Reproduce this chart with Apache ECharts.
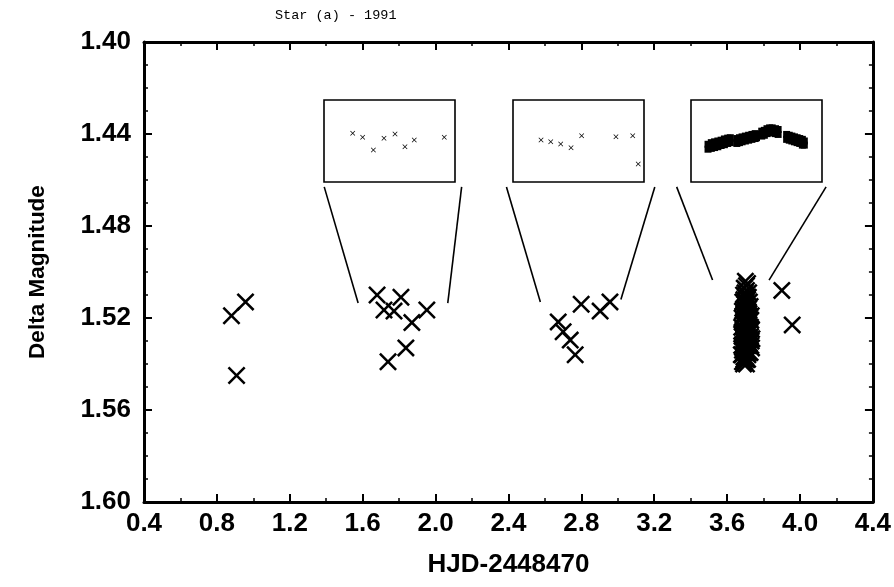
<!DOCTYPE html>
<html><head><meta charset="utf-8">
<script src="https://cdn.jsdelivr.net/npm/echarts@6/dist/echarts.min.js"></script>
<style>html,body{margin:0;padding:0;background:#fff}#c{width:894px;height:587px}</style>
</head><body><div id="c"></div>
<script>
// ---- data ----
const titleText = 'Star (a) - 1991';
const xName = 'HJD-2448470';
const yName = 'Delta Magnitude';
// individual measurements
const hjd  = [0.88, 0.957, 0.908, 1.679, 1.81, 1.717, 1.772, 1.87, 1.952, 1.837, 1.739, 2.673, 2.70, 2.739, 2.766, 2.799, 2.903, 2.957, 3.90, 3.957];
const dmag = [1.519, 1.513, 1.545, 1.510, 1.511, 1.5165, 1.517, 1.522, 1.5165, 1.533, 1.539, 1.5217, 1.526, 1.5296, 1.536, 1.514, 1.517, 1.513, 1.508, 1.523];
// dense run near HJD 3.7
const runHjd  = [3.700,3.712,3.694,3.706,3.718,3.690,3.700,3.712,3.722,3.686,3.696,3.708,3.718,3.684,3.694,3.704,3.714,3.724,3.682,3.690,3.700,3.710,3.720,3.728,3.680,3.688,3.698,3.708,3.718,3.728,3.682,3.692,3.702,3.712,3.722,3.730,3.680,3.688,3.698,3.708,3.718,3.726,3.682,3.692,3.702,3.712,3.684,3.696,3.706,3.690,
  3.706,3.698,3.716,3.692,3.704,3.726,3.690,3.700,3.720,3.688,3.708,3.730,3.694,3.714,3.684,3.704,3.724,3.732,3.688,3.698,3.716,3.706,3.684,3.694,3.714,3.704,3.692,3.700,3.720,3.686,
  3.734,3.736,3.734,3.680,3.678,3.732];
const runDmag = [1.504,1.505,1.507,1.508,1.509,1.510,1.511,1.512,1.513,1.513,1.514,1.515,1.516,1.517,1.518,1.518,1.519,1.520,1.520,1.521,1.522,1.522,1.523,1.524,1.524,1.525,1.526,1.526,1.527,1.528,1.528,1.529,1.530,1.530,1.531,1.532,1.532,1.533,1.534,1.534,1.535,1.535,1.536,1.537,1.537,1.538,1.539,1.539,1.540,1.540,
  1.506,1.509,1.511,1.512,1.513,1.515,1.516,1.516,1.518,1.519,1.520,1.521,1.523,1.524,1.526,1.527,1.526,1.530,1.530,1.531,1.532,1.532,1.534,1.535,1.536,1.538,1.538,1.535,1.529,1.522,
  1.525,1.529,1.533,1.527,1.536,1.519];
// inset panels (relative units inside each panel, 0..1)
const inset1X = [0.219,0.295,0.377,0.458,0.542,0.618,0.689,0.918];
const inset1Y = [0.406,0.455,0.610,0.467,0.415,0.570,0.488,0.455];
const inset2X = [0.214,0.288,0.364,0.443,0.524,0.786,0.914,0.956];
const inset2Y = [0.488,0.508,0.537,0.582,0.435,0.448,0.435,0.780];
const inset3X = [0.13,0.13,0.155,0.155,0.18,0.18,0.205,0.205,0.23,0.23,0.255,0.255,0.28,0.28,0.30,0.30,
  0.35,0.35,0.37,0.37,0.39,0.39,0.415,0.415,0.44,0.44,0.465,0.465,0.49,0.49,0.50,0.50,
  0.54,0.54,0.56,0.56,0.58,0.58,0.60,0.60,0.62,0.62,0.645,0.645,0.665,0.665,
  0.73,0.73,0.75,0.75,0.77,0.77,0.79,0.79,0.81,0.81,0.83,0.83,0.85,0.85,0.865,0.865];
const inset3Y = [0.54,0.60,0.52,0.59,0.51,0.58,0.50,0.57,0.49,0.555,0.475,0.545,0.465,0.53,0.46,0.52,
  0.47,0.53,0.46,0.52,0.45,0.51,0.44,0.50,0.43,0.49,0.42,0.48,0.41,0.47,0.42,0.46,
  0.38,0.44,0.37,0.43,0.35,0.41,0.34,0.40,0.34,0.40,0.35,0.41,0.36,0.42,
  0.42,0.48,0.43,0.49,0.44,0.50,0.45,0.51,0.46,0.52,0.47,0.53,0.48,0.55,0.50,0.55];
// zoom connector lines (data coords of the main panel)
const connX = [[1.389,1.575],[2.143,2.067],[2.389,2.575],[3.203,3.017],[3.323,3.52],[4.143,3.83]];
const connY = [[1.463,1.5135],[1.463,1.5135],[1.463,1.513],[1.463,1.512],[1.463,1.5035],[1.463,1.5035]];

const zip = (a,b) => a.map((v,i)=>[v,b[i]]);
const XPATH = 'path://M0,1L1,0L5,4L9,0L10,1L6,5L10,9L9,10L5,6L1,10L0,9L4,5Z';
const FONT = 'Liberation Sans';

const chart = echarts.init(document.getElementById('c'), null, {renderer:'canvas'});
const frameAxis = {
  axisLine:{show:true,onZero:false,lineStyle:{color:'#000',width:3}},
  axisTick:{show:true,inside:true,length:8,lineStyle:{color:'#000',width:2}},
  minorTick:{show:true,length:4,lineStyle:{color:'#000',width:1.5}},
  splitLine:{show:false}, minorSplitLine:{show:false}
};
const mainX = {type:'value',gridIndex:0,min:0.4,max:4.4,interval:0.4};
const mainY = {type:'value',gridIndex:0,min:1.40,max:1.60,interval:0.04,inverse:true};
const insetAxisX = g => ({type:'value',gridIndex:g,min:0,max:1,show:false});
const insetAxisY = g => ({type:'value',gridIndex:g,min:0,max:1,inverse:true,show:false});
const insetGrid = l => ({left:l,top:100,width:131,height:82,show:true,borderColor:'#000',borderWidth:1.6,backgroundColor:'#fff',containLabel:false});
const black = {color:'#000',opacity:1};

const series = [
  {type:'scatter',xAxisIndex:0,yAxisIndex:0,data:zip(hjd,dmag),symbol:XPATH,symbolSize:18,itemStyle:black,silent:true},
  {type:'scatter',xAxisIndex:0,yAxisIndex:0,data:zip(runHjd,runDmag),symbol:XPATH,symbolSize:18,itemStyle:black,silent:true},
  {type:'scatter',xAxisIndex:2,yAxisIndex:2,data:zip(inset1X,inset1Y),symbol:XPATH,symbolSize:5,itemStyle:black},
  {type:'scatter',xAxisIndex:3,yAxisIndex:3,data:zip(inset2X,inset2Y),symbol:XPATH,symbolSize:5,itemStyle:black},
  {type:'scatter',xAxisIndex:4,yAxisIndex:4,data:zip(inset3X,inset3Y),symbol:'rect',symbolSize:7,itemStyle:black}
];
connX.forEach((xs,i)=>{
  series.push({type:'line',xAxisIndex:0,yAxisIndex:0,data:zip(xs,connY[i]),symbol:'none',lineStyle:{color:'#000',width:1.6},silent:true,animation:false});
});

chart.setOption({
  animation:false,
  backgroundColor:'#fff',
  title:{text:titleText,left:270,top:3,textStyle:{fontFamily:'Liberation Mono',fontSize:13.5,fontWeight:'normal',color:'#000'}},
  grid:[{left:144,top:42,width:732,height:460,containLabel:false}, insetGrid(324), insetGrid(513), insetGrid(691)],
  xAxis:[
    Object.assign({},mainX,frameAxis,{position:'bottom',name:xName,nameLocation:'middle',nameGap:50,
      nameTextStyle:{fontFamily:FONT,fontWeight:'bold',fontSize:26,color:'#000'},
      minorTick:Object.assign({},frameAxis.minorTick,{splitNumber:2}),
      axisLabel:{margin:9,fontFamily:FONT,fontWeight:'bold',fontSize:26,color:'#000',formatter:v=>v.toFixed(1)}}),
    Object.assign({},mainX,frameAxis,{position:'top',axisLabel:{show:false},
      minorTick:Object.assign({},frameAxis.minorTick,{splitNumber:2})}),
    insetAxisX(1), insetAxisX(2), insetAxisX(3)
  ],
  yAxis:[
    Object.assign({},mainY,frameAxis,{position:'left',name:yName,nameLocation:'middle',nameGap:95,nameRotate:90,
      nameTextStyle:{fontFamily:FONT,fontWeight:'bold',fontSize:22.5,color:'#000'},
      minorTick:Object.assign({},frameAxis.minorTick,{splitNumber:4}),
      axisLabel:{margin:13,fontFamily:FONT,fontWeight:'bold',fontSize:26,color:'#000',formatter:v=>v.toFixed(2)}}),
    Object.assign({},mainY,frameAxis,{position:'right',axisLabel:{show:false},
      minorTick:Object.assign({},frameAxis.minorTick,{splitNumber:4})}),
    insetAxisY(1), insetAxisY(2), insetAxisY(3)
  ],
  series:series
});
</script></body></html>
